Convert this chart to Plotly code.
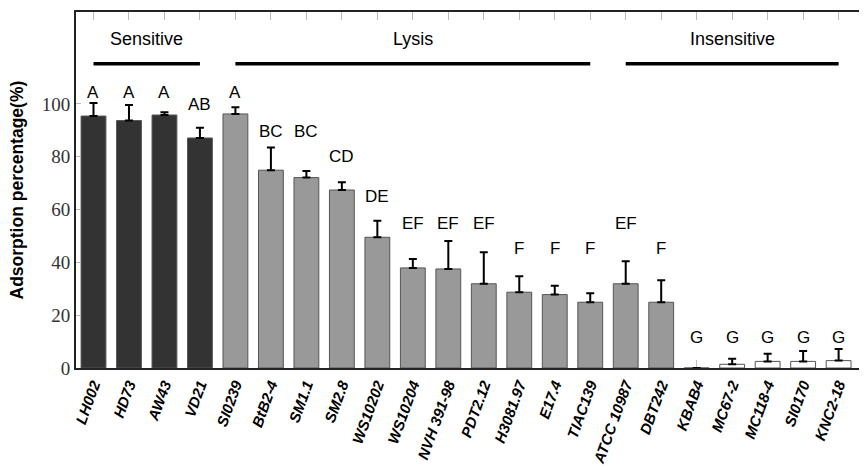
import plotly.graph_objects as go

strains = ["LH002", "HD73", "AW43", "VD21", "SI0239", "BtB2-4", "SM1.1", "SM2.8",
           "WS10202", "WS10204", "NVH 391-98", "PDT2.12", "H3081.97", "E17.4",
           "TIAC139", "ATCC 10987", "DBT242", "KBAB4", "MC67-2", "MC118-4",
           "SI0170", "KNC2-18"]
adsorption = [95.4, 93.7, 95.8, 87.1, 96.2, 74.9, 72.1, 67.4, 49.5, 37.9, 37.5,
              31.9, 28.7, 27.8, 24.9, 31.9, 24.9, 0.0, 1.4, 2.5, 2.5, 2.8]
sd = [4.9, 5.9, 1.0, 3.9, 2.5, 8.6, 2.5, 2.9, 6.3, 3.4, 10.6, 11.9, 6.0, 3.3,
      3.4, 8.5, 8.3, 0.0, 2.1, 2.9, 3.9, 4.4]
letters = ["A", "A", "A", "AB", "A", "BC", "BC", "CD", "DE", "EF", "EF", "EF",
           "F", "F", "F", "EF", "F", "G", "G", "G", "G", "G"]
letter_levels = {"A": 104.2, "AB": 99.6, "BC": 89.4, "CD": 79.9, "DE": 64.8,
                 "EF": 54.9, "F": 45.1, "G": 11.7}
# phenotype used for bar shading
phenotype = ["sensitive"] * 4 + ["lysis"] * 13 + ["none"] * 5
shade = {"sensitive": "#333333", "lysis": "#999999", "none": "#ffffff"}
# bracketed groups shown above the bars
groups = ["Sensitive", "Lysis", "Insensitive"]
group_members = [(0, 3), (4, 14), (15, 21)]

n = len(strains)
xs = list(range(n))
colors = [shade[p] for p in phenotype]

fig = go.Figure()
fig.add_trace(go.Bar(
    x=xs, y=adsorption, width=0.7,
    marker=dict(color=colors, line=dict(color="#555555", width=1)),
    error_y=dict(type="data", symmetric=False, array=sd, arrayminus=[0] * n,
                 color="black", thickness=2, width=4),
    showlegend=False,
))

annotations = []
for i, t in enumerate(letters):
    annotations.append(dict(x=i, y=letter_levels[t], xref="x", yref="y", text=t,
                            showarrow=False, yanchor="middle",
                            font=dict(family="Liberation Sans, Arial", size=17, color="black")))

shapes = []
for g, (a, b) in zip(groups, group_members):
    shapes.append(dict(type="line", xref="x", yref="y", x0=a, x1=b, y0=115.2, y1=115.2,
                       line=dict(color="black", width=3.5)))
    annotations.append(dict(x=(a + b) / 2, y=124.6, xref="x", yref="y", text=g,
                            showarrow=False, yanchor="middle",
                            font=dict(family="Liberation Sans, Arial", size=18, color="black")))

annotations.append(dict(x=-0.074, y=0.5, xref="paper", yref="paper",
                        text="<b>Adsorption percentage(%)</b>", textangle=-90,
                        showarrow=False, xanchor="center", yanchor="middle",
                        font=dict(family="Liberation Sans, Arial", size=17.5, color="black")))

yticks = [0, 20, 40, 60, 80, 100]
xrange = [-0.493, 21.80]
yrange = [0, 134.8]

# the page body adds an 8px offset; size the figure so it ends at the window edge
fig.update_layout(
    width=859, height=463,
    margin=dict(l=68, r=0, t=4, b=103, autoexpand=False),
    plot_bgcolor="white", paper_bgcolor="white",
    bargap=0.3,
    shapes=shapes, annotations=annotations,
    xaxis=dict(range=xrange, tickvals=xs, ticktext=strains, tickangle=-70,
               automargin=False,
               showline=True, linecolor="#222222", linewidth=2, mirror="ticks",
               ticks="inside", ticklen=8, tickcolor="#bbbbbb", tickwidth=1,
               layer="below traces", showgrid=False, zeroline=False,
               tickfont=dict(family="Liberation Sans, Arial", size=15, color="black",
                             weight="bold", style="italic")),
    yaxis=dict(range=yrange, tickvals=yticks, showline=True, linecolor="#222222",
               automargin=False,
               linewidth=2, ticks="inside", ticklen=5, tickcolor="#bbbbbb",
               showgrid=False, zeroline=False,
               tickfont=dict(family="Liberation Serif", size=19, color="#333333")),
    yaxis2=dict(range=yrange, tickvals=yticks, overlaying="y", side="right",
                anchor="x", showline=False, ticks="inside", ticklen=5,
                automargin=False,
                tickcolor="#bbbbbb", showticklabels=False, showgrid=False,
                zeroline=False),
)

fig.write_html("out.html")
